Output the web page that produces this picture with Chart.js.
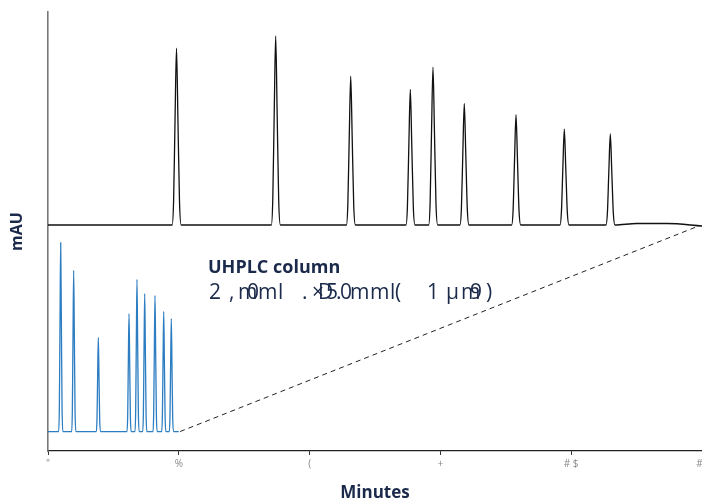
<!DOCTYPE html>
<html>
<head>
<meta charset="utf-8">
<script src="https://cdn.jsdelivr.net/npm/chart.js@4.4.1/dist/chart.umd.min.js"></script>
<style>
  html, body { margin: 0; padding: 0; background: #fff; }
  #wrap { width: 702px; height: 503px; }
</style>
</head>
<body>
<div id="wrap"><canvas id="chromChart"></canvas></div>
<script>
// ---- data (minutes / mAU-ish units) ----
const xTicks = [0, 3, 6, 9, 12, 15];
const xTickLabels = ['"', '%', '(', '+', '# $', '#\u2002'];

// upper (black) trace
const blackBase = 226.5;
const blackPeakTimes = [2.947, 5.222, 6.943, 8.310, 8.830, 9.548, 10.734, 11.842, 12.897];
const blackPeakTops  = [403.7, 416.0, 375.7, 362.3, 384.7, 348.3, 337.0, 322.7, 317.7];
const blackTail = [[13.5, 228.0], [14.2, 228.0], [15.0, 225.5]];

// lower (blue) trace
const blueBase = 19.5;
const bluePeakTimes = [0.291, 0.589, 1.154, 1.858, 2.041, 2.218, 2.454, 2.654, 2.828];
const bluePeakTops  = [208.7, 181.0, 113.7, 137.7, 172.0, 157.7, 156.0, 140.0, 132.7];
const blueEnd = 3.0;

// gradient (dashed)
const gradientLine = [[3.03, 19.5], [14.95, 226.0]];

// peak outline: offsets in peak widths, fraction of peak height
const peakShapeOffsets = [-3, -2, -1, 0, 1, 2.1, 3.3];
const peakShapeFrac    = [0, 0.14, 0.6, 1, 0.6, 0.13, 0];
const blackWidth = 0.033;
const blueWidth = 0.015;

function buildTrace(base, times, tops, width, start, tail) {
  const pts = [{x: start, y: base}];
  times.forEach((t, i) => {
    peakShapeOffsets.forEach((o, j) => {
      pts.push({x: t + o * width, y: base + (tops[i] - base) * peakShapeFrac[j]});
    });
  });
  tail.forEach(p => pts.push({x: p[0], y: p[1]}));
  return pts;
}

const blackPoints = buildTrace(blackBase, blackPeakTimes, blackPeakTops, blackWidth, 0, blackTail);
const bluePoints = buildTrace(blueBase, bluePeakTimes, bluePeakTops, blueWidth, 0, [[blueEnd, blueBase]]);
const dashPoints = gradientLine.map(p => ({x: p[0], y: p[1]}));

const navy = '#1b2a4a';

// annotation text (characters as they appear in the figure)
const annotationTitle = 'UHPLC column';
const annotationChars = [
  ['2', 209], [',', 229], ['m', 238], ['0', 247], ['m', 258], ['l', 278],
  ['.', 302], ['×', 312], ['D', 318], ['5', 326], ['.', 336], ['0', 340],
  ['m', 350], ['m', 370], ['l', 390], ['(', 395], ['1', 427], ['µ', 446],
  ['m', 461], ['9', 470], [')', 486]
];

const annotationPlugin = {
  id: 'annotation',
  afterDraw(chart) {
    const ctx = chart.ctx;
    ctx.save();
    ctx.fillStyle = navy;
    ctx.textBaseline = 'alphabetic';
    ctx.font = 'bold 18px "Open Sans"';
    ctx.fillText(annotationTitle, 208, 273);
    ctx.font = '21px "Open Sans"';
    annotationChars.forEach(c => ctx.fillText(c[0], c[1], 299));
    ctx.restore();
  }
};

const ctx = document.getElementById('chromChart').getContext('2d');
new Chart(ctx, {
  type: 'scatter',
  data: {
    datasets: [
      { data: blackPoints, showLine: true, borderColor: '#111', borderWidth: 1.3, pointRadius: 0, cubicInterpolationMode: 'monotone' },
      { data: bluePoints, showLine: true, borderColor: '#2c7dc1', borderWidth: 1.3, pointRadius: 0, cubicInterpolationMode: 'monotone' },
      { data: dashPoints, showLine: true, borderColor: '#222', borderWidth: 1, borderDash: [5, 4], pointRadius: 0 }
    ]
  },
  options: {
    responsive: true,
    maintainAspectRatio: false,
    animation: false,
    layout: { padding: { top: 12, right: 0, left: 0, bottom: 0 } },
    plugins: { legend: { display: false }, tooltip: { enabled: false } },
    scales: {
      x: {
        type: 'linear',
        min: 0, max: 15,
        afterBuildTicks: scale => { scale.ticks = xTicks.map(v => ({value: v})); },
        afterFit: scale => { scale.height = 52; scale.paddingRight = 0; scale.paddingLeft = 0; },
        ticks: {
          color: '#888',
          font: { size: 10, family: '"Open Sans"' },
          padding: 3,
          maxRotation: 0,
          callback: (v) => xTickLabels[xTicks.indexOf(v)]
        },
        grid: { display: true, drawOnChartArea: false, drawTicks: true, tickLength: 4, color: '#333' },
        border: { color: '#222', width: 1.2 },
        title: { display: true, text: 'Minutes', color: navy, font: { size: 17, weight: 'bold', family: '"Open Sans"' }, padding: { top: 0, bottom: 0 } }
      },
      y: {
        min: 0, max: 440,
        afterFit: scale => { scale.width = 48; },
        ticks: { display: false },
        grid: { display: false },
        border: { color: '#777', width: 1.6 },
        title: { display: true, text: 'mAU', color: navy, font: { size: 16, weight: 'bold', family: '"Open Sans"' }, padding: { top: 8, bottom: 0 } }
      }
    }
  },
  plugins: [annotationPlugin]
});
</script>
</body>
</html>
